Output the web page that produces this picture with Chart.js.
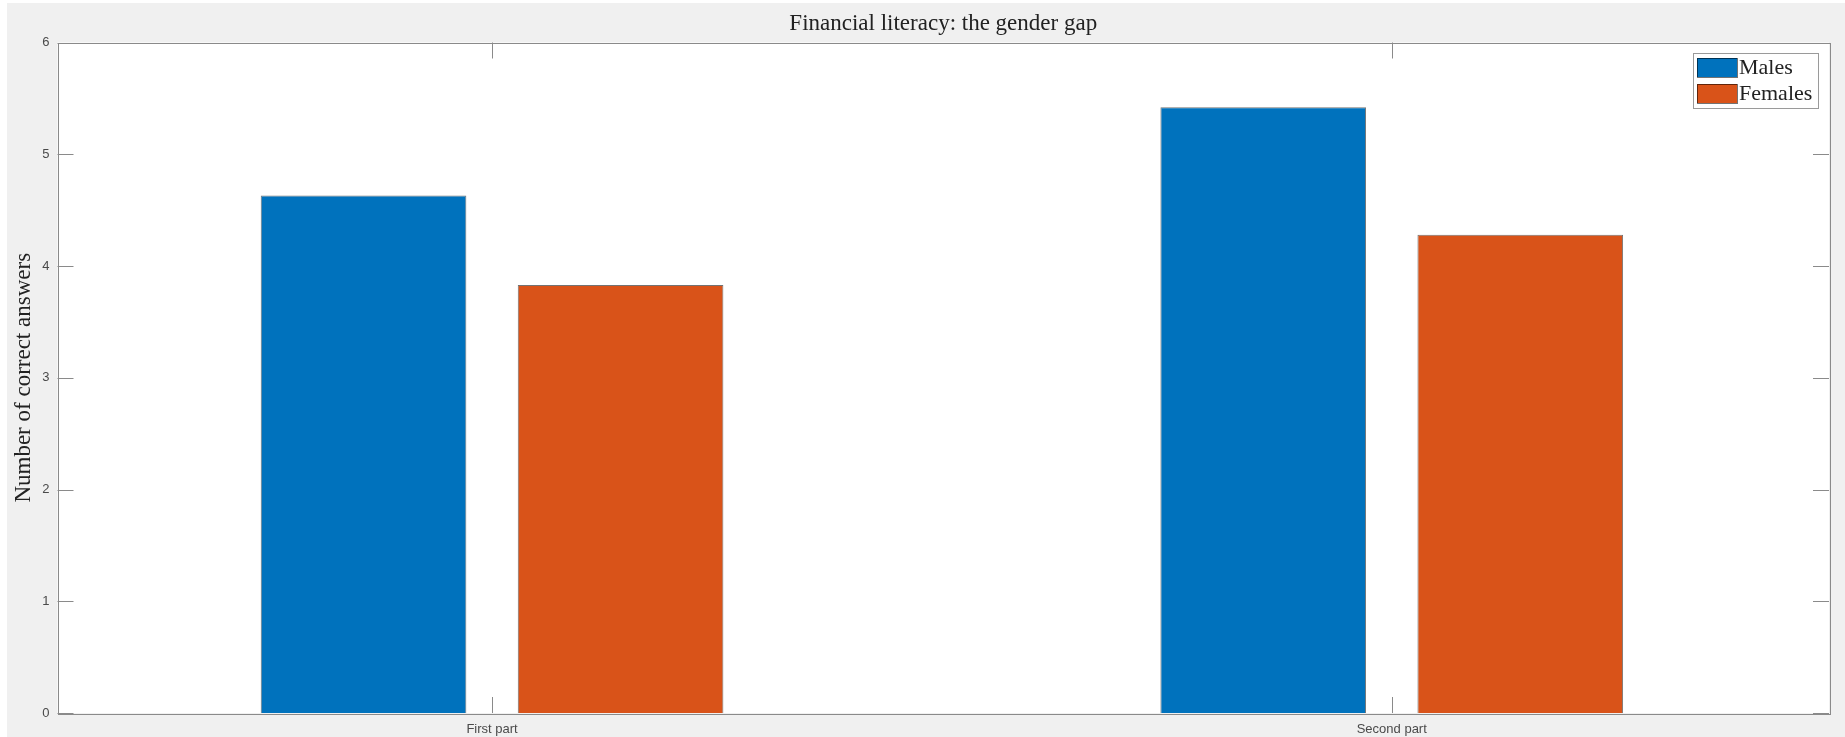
<!DOCTYPE html>
<html>
<head>
<meta charset="utf-8">
<script src="https://cdn.jsdelivr.net/npm/chart.js@4/dist/chart.umd.min.js"></script>
<style>
  html, body { margin: 0; padding: 0; background: #ffffff; }
  #wrap { width: 1845px; height: 737px; }
  canvas { display: block; }
</style>
</head>
<body>
<div id="wrap"><canvas id="c" width="1845" height="737"></canvas></div>
<script>
const categories = ['First part', 'Second part'];
const seriesNames = ['Males', 'Females'];
const males = [4.63, 5.42];
const females = [3.83, 4.28];
const yTickValues = [0, 1, 2, 3, 4, 5, 6];
const chartTitle = 'Financial literacy: the gender gap';
const yAxisTitle = 'Number of correct answers';

const BLUE = '#0072BD';
const ORANGE = '#D95319';
const AXIS = '#8a8a8a';
const TEXT = '#4a4a4a';
const SERIF = '"Liberation Serif", "DejaVu Serif", serif';
const SANS = '"Liberation Sans", Arial, sans-serif';

const figurePlugin = {
  id: 'figure',
  beforeDraw(chart) {
    const {ctx, width, height, chartArea: a} = chart;
    ctx.save();
    ctx.fillStyle = '#ffffff';
    ctx.fillRect(0, 0, width, height);
    ctx.fillStyle = '#f0f0f0';
    ctx.fillRect(7, 3, width - 7, height - 3);
    ctx.fillStyle = '#ffffff';
    ctx.fillRect(a.left, a.top, a.right - a.left, a.bottom - a.top);
    ctx.restore();
  },
  afterDatasetsDraw(chart) {
    const {ctx, chartArea: a, scales} = chart;
    const tl = 16;
    ctx.save();
    ctx.strokeStyle = AXIS;
    ctx.lineWidth = 1;
    ctx.beginPath();
    scales.y.ticks.forEach(t => {
      const y = Math.round(scales.y.getPixelForValue(t.value)) + 0.5;
      ctx.moveTo(a.left, y); ctx.lineTo(a.left + tl, y);
      ctx.moveTo(a.right, y); ctx.lineTo(a.right - tl, y);
    });
    scales.x.ticks.forEach(t => {
      const x = Math.round(scales.x.getPixelForValue(t.value)) + 0.5;
      ctx.moveTo(x, a.bottom); ctx.lineTo(x, a.bottom - tl);
      ctx.moveTo(x, a.top); ctx.lineTo(x, a.top + tl);
    });
    ctx.stroke();
    ctx.strokeRect(Math.round(a.left) + 0.5, Math.round(a.top) + 0.5,
                   Math.round(a.right - a.left), Math.round(a.bottom - a.top));
    ctx.restore();
  },
  afterDraw(chart) {
    const {ctx, chartArea: a} = chart;
    const ds = chart.data.datasets;
    const boxW = 125, boxH = 55;
    const bx = a.right - 11 - boxW, by = a.top + 10.5;
    ctx.save();
    ctx.fillStyle = '#ffffff';
    ctx.fillRect(bx, by, boxW, boxH);
    ctx.strokeStyle = '#9a9a9a';
    ctx.lineWidth = 1;
    ctx.strokeRect(Math.round(bx) + 0.5, Math.round(by) + 0.5, boxW, boxH);
    ctx.font = '22px ' + SERIF;
    ctx.textBaseline = 'middle';
    ctx.textAlign = 'left';
    ds.forEach((d, i) => {
      const sy = by + 5 + i * 26;
      ctx.fillStyle = d.backgroundColor;
      ctx.fillRect(bx + 4, sy, 40, 19);
      ctx.strokeStyle = 'rgba(0,0,0,0.55)';
      ctx.strokeRect(bx + 4.5, sy + 0.5, 40, 19);
      ctx.fillStyle = '#222';
      ctx.fillText(d.label, bx + 46, sy + 10);
    });
    ctx.restore();
  }
};

new Chart(document.getElementById('c'), {
  type: 'bar',
  data: {
    datasets: [
      { label: seriesNames[0], data: males.map((v, i) => ({x: i + 1, y: v})),
        backgroundColor: BLUE, borderColor: 'rgba(0,0,0,0.55)', borderWidth: 1,
        barPercentage: 0.8, categoryPercentage: 0.5714 },
      { label: seriesNames[1], data: females.map((v, i) => ({x: i + 1, y: v})),
        backgroundColor: ORANGE, borderColor: 'rgba(0,0,0,0.55)', borderWidth: 1,
        barPercentage: 0.8, categoryPercentage: 0.5714 }
    ]
  },
  options: {
    responsive: false,
    animation: false,
    layout: { padding: { left: 0, right: 16, top: 0, bottom: 0 } },
    plugins: {
      legend: { display: false },
      tooltip: { enabled: false },
      title: {
        display: true, text: chartTitle, color: '#222', fullSize: false,
        font: { family: SERIF, size: 23, weight: 'normal', lineHeight: 1.2 },
        padding: { top: 10.5, bottom: 4.4 }
      }
    },
    scales: {
      x: {
        type: 'linear', min: 0.517, max: 2.486, offset: false,
        grid: { display: false, drawTicks: false, offset: false },
        border: { display: false },
        afterBuildTicks: s => { s.ticks = categories.map((_, i) => ({ value: i + 1 })); },
        afterFit: s => { s.height = 24; },
        ticks: {
          autoSkip: false, maxRotation: 0, padding: 9, color: TEXT,
          font: { family: SANS, size: 13 },
          callback: v => categories[Math.round(v) - 1]
        }
      },
      y: {
        min: 0, max: 6,
        grid: { display: false, drawTicks: false },
        border: { display: false },
        afterBuildTicks: s => { s.ticks = yTickValues.map(v => ({ value: v })); },
        afterFit: s => { s.width = 57.5; },
        ticks: { padding: 8, color: TEXT, font: { family: SANS, size: 13 } },
        title: {
          display: true, text: yAxisTitle, color: '#222',
          font: { family: SERIF, size: 23, weight: 'normal', lineHeight: 1.2 },
          padding: { top: 9.7, bottom: 0 }
        }
      }
    }
  },
  plugins: [figurePlugin]
});
</script>
</body>
</html>
